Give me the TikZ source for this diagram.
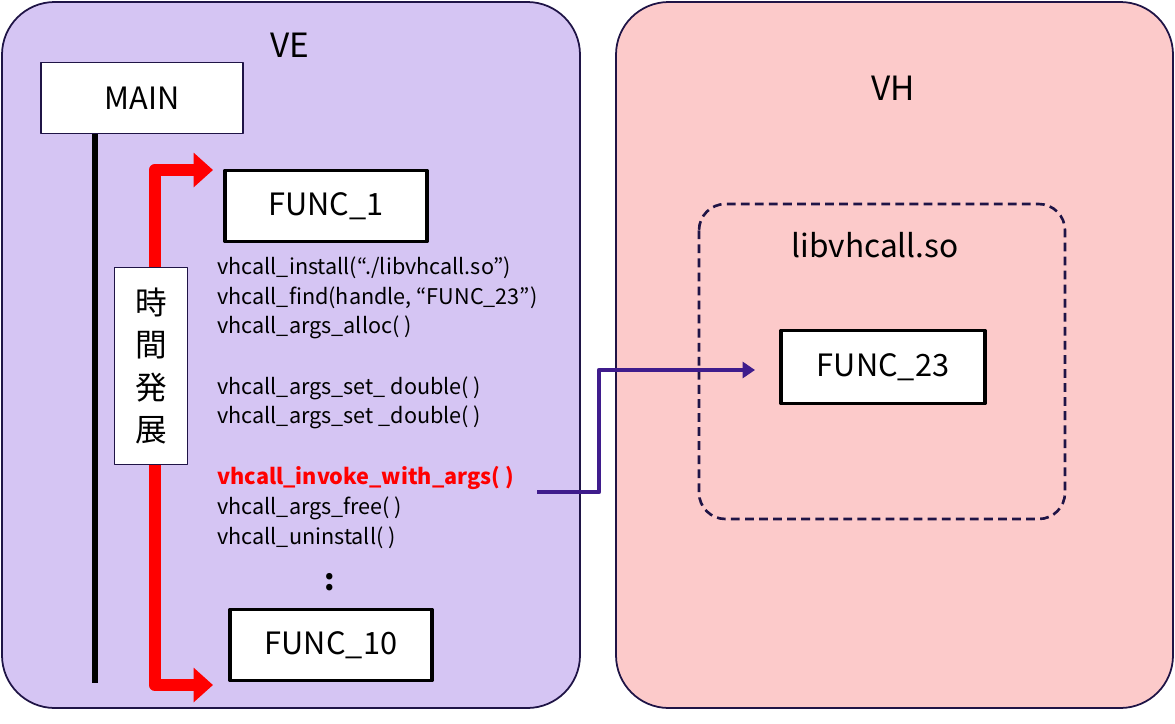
\documentclass[tikz,border=0pt]{standalone}
\usepackage{fontspec}
\setmainfont{Noto Sans CJK JP}
\usetikzlibrary{arrows.meta}
\definecolor{veBg}{HTML}{D5C5F3}
\definecolor{vhBg}{HTML}{FCCACA}
\definecolor{navy}{HTML}{1F1446}
\definecolor{callPurple}{HTML}{3F1C8C}
\tikzset{
  area/.style={draw=navy,line width=1pt,rounded corners=30pt},
  func/.style={draw=black,fill=white,line width=2.2pt,minimum width=202\pxu,minimum height=71\pxu,font=\fontsize{17.5}{20}\selectfont},
  line/.style={anchor=west,font=\fontsize{12.3}{14}\selectfont,inner sep=0pt}
}
\newlength{\pxu}\setlength{\pxu}{0.02cm}
\begin{document}
\begin{tikzpicture}[x=0.02cm,y=-0.02cm,line join=round]
\useasboundingbox (0,0) rectangle (1175,723);
\draw[area,fill=veBg] (2,2) rectangle (580,708);
\draw[area,fill=vhBg] (616,2) rectangle (1173,708);
\node (ve) at (290,45) {\fontsize{19}{21}\selectfont VE};
\node (vh) at (893,88) {\fontsize{19}{21}\selectfont VH};
\node[draw=navy,fill=white,line width=0.8pt,minimum width=202\pxu,minimum height=71\pxu,font=\fontsize{17.5}{20}\selectfont] (main) at (142,98) {MAIN};
\coordinate (mainend) at (95,683);
\draw[line width=3pt] (main.south -| mainend) -- (mainend);
\coordinate (rtop) at (213,170);
\coordinate (rbot) at (213,685);
\draw[red,line width=7pt,-{Triangle[length=11pt,width=19pt]}] (155,685) -- (155,170) -- (rtop);
\draw[red,line width=7pt,-{Triangle[length=11pt,width=19pt]}] (155,600) -- (155,685) -- (rbot);
\node[draw=navy,fill=white,line width=0.8pt,minimum width=73\pxu,minimum height=197\pxu,align=center,font=\fontsize{18}{24}\selectfont] (time) at (151,366) {時\\間\\発\\展};
\node[func] (f1) at (326,206) {FUNC\_1};
\node[func] (f10) at (331,645) {FUNC\_10};
\node[line] (l1) at (217,268) {vhcall\_install(“./libvhcall.so”)};
\node[line] (l2) at (217,298) {vhcall\_find(handle, “FUNC\_23”)};
\node[line] (l3) at (217,327) {vhcall\_args\_alloc( )};
\node[line] (l4) at (217,388) {vhcall\_args\_set\_ double( )};
\node[line] (l5) at (217,417) {vhcall\_args\_set \_double( )};
\node[line,text=red,font=\fontsize{12.3}{14}\selectfont\bfseries] (l6) at (217,478) {vhcall\_invoke\_with\_args( )};
\node[line] (l7) at (217,508) {vhcall\_args\_free( )};
\node[line] (l8) at (217,538) {vhcall\_uninstall( )};
\node[font=\fontsize{17}{19}\selectfont\bfseries] (dots) at (330,582) {:};
\draw[navy,line width=1.5pt,dashed,dash pattern=on 5pt off 3pt,rounded corners=15pt] (699,204) rectangle (1065,519);
\node (lib) at (875,245) {\fontsize{18}{20}\selectfont libvhcall.so};
\node[func,minimum width=204\pxu,minimum height=73\pxu] (f23) at (883,367) {FUNC\_23};
\coordinate (callstart) at (537,492);
\coordinate (callend) at (755,370);
\draw[callPurple,line width=2.5pt,-{Triangle[length=7pt,width=9pt]}] (callstart) -- (599,492) -- (599,370) -- (callend);
\end{tikzpicture}
\end{document}
